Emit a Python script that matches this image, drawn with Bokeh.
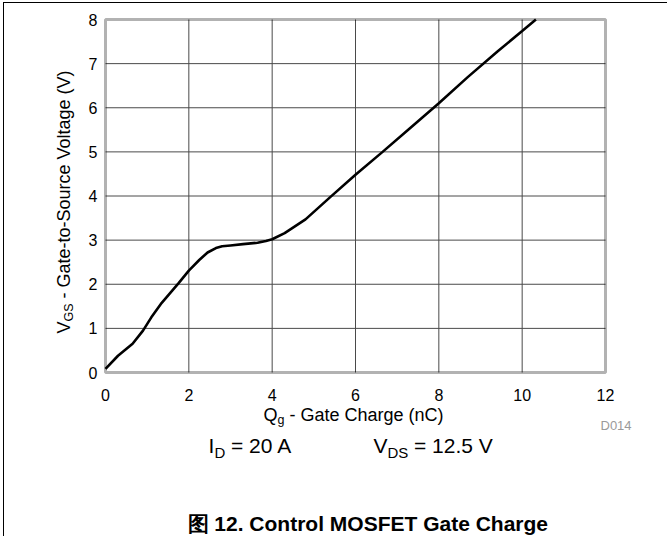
import math
from bokeh.plotting import figure
from bokeh.models import Label, FixedTicker, Range1d, BoxAnnotation
from bokeh.embed import file_html
from bokeh.resources import INLINE

# ---- data ----
qg_nc = [0.0, 0.3, 0.65, 0.9, 1.1, 1.35, 1.75, 2.0, 2.25, 2.45, 2.65, 2.8, 3.0, 3.3,
         3.65, 3.85, 4.0, 4.3, 4.8, 5.4, 6.0, 6.65, 7.3, 8.0, 8.7, 9.4, 10.0, 10.33]
vgs_v = [0.08, 0.38, 0.65, 0.95, 1.25, 1.58, 2.02, 2.31, 2.55, 2.72, 2.82, 2.86, 2.88, 2.91,
         2.94, 2.98, 3.02, 3.16, 3.47, 3.98, 4.48, 5.0, 5.53, 6.1, 6.7, 7.27, 7.74, 8.0]
x_ticks = [0, 2, 4, 6, 8, 10, 12]
y_ticks = [0, 1, 2, 3, 4, 5, 6, 7, 8]
X_MIN, X_MAX = 0, 12
Y_MIN, Y_MAX = 0, 8

FONT = "Liberation Sans"

# ---- layout (page pixels) ----
CANVAS_L, CANVAS_T = 4, 3          # after 3/2 px margin and 1 px border
CW, CH = 664, 534                  # canvas size
PLOT_L, PLOT_R, PLOT_T, PLOT_B = 105, 605, 19, 372   # chart area in page pixels

sx = (X_MAX - X_MIN) / (PLOT_R - PLOT_L)
sy = (Y_MAX - Y_MIN) / (PLOT_B - PLOT_T)


def dx(px):
    return X_MIN + (px - PLOT_L) * sx


def dy(py):
    return Y_MIN + (PLOT_B - py) * sy


p = figure(
    output_backend="svg", toolbar_location=None,
    width=CW, height=CH,
    min_border_left=0, min_border_right=0, min_border_top=0, min_border_bottom=0,
    x_range=Range1d(dx(CANVAS_L), dx(CANVAS_L + CW)),
    y_range=Range1d(dy(CANVAS_T + CH), dy(CANVAS_T)),
)
p.styles = {"border-left": "1px solid black", "border-top": "1px solid black",
            "margin-left": "3px", "margin-top": "2px"}
p.background_fill_color = "white"
p.border_fill_color = "white"
p.outline_line_color = None
p.xgrid.visible = False
p.ygrid.visible = False

# axes placed at the chart's own origin
p.xaxis.fixed_location = Y_MIN
p.yaxis.fixed_location = X_MIN
p.xaxis.bounds = (X_MIN, X_MAX)
p.yaxis.bounds = (Y_MIN, Y_MAX)
for ax in (p.xaxis[0], p.yaxis[0]):
    ax.axis_line_color = None
    ax.major_tick_line_color = None
    ax.minor_tick_line_color = None
    ax.major_tick_in = 0
    ax.major_tick_out = 0
    ax.major_label_text_font = FONT
    ax.major_label_text_font_size = "16px"
    ax.major_label_text_color = "black"
p.xaxis.ticker = FixedTicker(ticks=x_ticks)
p.yaxis.ticker = FixedTicker(ticks=y_ticks)
p.xaxis.major_label_standoff = 16
p.yaxis.major_label_standoff = 8

# grid lines (inner ticks only), limited to the chart area
gx = x_ticks[1:-1]
gy = y_ticks[1:-1]
p.segment(x0=gx, y0=[Y_MIN] * len(gx), x1=gx, y1=[Y_MAX] * len(gx),
          line_color="#4a4a4a", line_width=1)
p.segment(x0=[X_MIN] * len(gy), y0=gy, x1=[X_MAX] * len(gy), y1=gy,
          line_color="#4a4a4a", line_width=1)

p.line(qg_nc, vgs_v, line_color="black", line_width=2.6)

# chart frame
p.add_layout(BoxAnnotation(left=X_MIN, right=X_MAX, bottom=Y_MIN, top=Y_MAX,
                           fill_alpha=0, line_color="black", line_width=3))


def lab(text, px, py, size, align="left", color="black", style="normal", rotated=False):
    # px, py: baseline start in page pixels; correct the renderer's baseline shift
    fs = float(size.replace("px", ""))
    shift = 0.33 * fs
    if rotated:
        px -= shift
    else:
        py -= shift
    p.add_layout(Label(
        x=dx(px), y=dy(py),
        text=text, text_font=FONT, text_font_size=size, text_color=color,
        text_font_style=style, text_align=align, text_baseline="alphabetic",
        angle=(math.pi / 2 if rotated else 0.0),
    ))


# x axis label: Q_g - Gate Charge (nC)
xs = 263
lab("Q", xs, 420, "18px")
lab("g", xs + 14.0, 424, "12.5px")
lab("- Gate Charge (nC)", xs + 14.0 + 7.0 + 5.0, 420, "18px")

# y axis label (rotated): V_GS - Gate-to-Source Voltage (V)
ys = 333
lab("V", 69, ys, "18px", rotated=True)
lab("GS", 73, ys - 12.0, "12.5px", rotated=True)
lab("- Gate-to-Source Voltage (V)", 69, ys - 12.0 - 18.0 - 5.0, "18px", rotated=True)

# figure id
lab("D014", 600, 429, "13px", color="#9a9a9a")

# conditions
lab("I", 208, 452, "21px")
lab("D", 214, 456.5, "15px")
lab("= 20 A", 230.5, 452, "21px")
lab("V", 373, 452, "21px")
lab("DS", 387, 456.5, "15px")
lab("= 12.5 V", 413.5, 452, "21px")

# caption
lab("图 12. Control MOSFET Gate Charge", 187, 530, "21px", style="bold")

open("out.html", "w").write(file_html(p, INLINE))
